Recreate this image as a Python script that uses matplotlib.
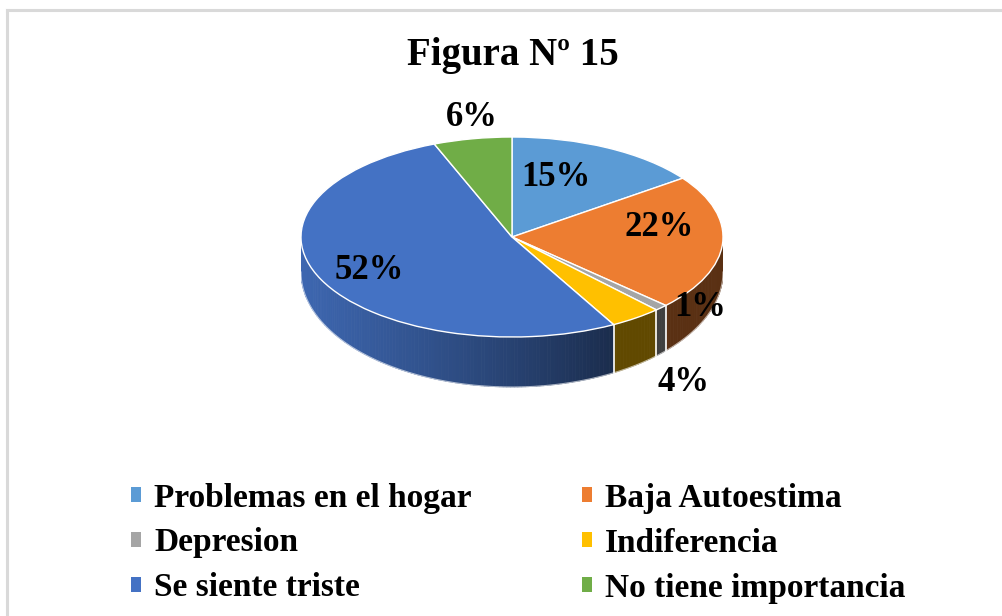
import numpy as np
import matplotlib
matplotlib.use("Agg")
import matplotlib.pyplot as plt
from matplotlib.patches import Polygon
from matplotlib.colors import to_rgb

plt.rcParams['font.family'] = ['Liberation Serif', 'DejaVu Serif']
plt.rcParams['font.weight'] = 'bold'

categorias = ["Problemas en el hogar", "Baja Autoestima", "Depresion",
              "Indiferencia", "Se siente triste", "No tiene importancia"]
porcentajes = [15, 22, 1, 4, 52, 6]
colores = ["#5B9BD5", "#ED7D31", "#A5A5A5", "#FFC000", "#4472C4", "#70AD47"]

# label placement (distance from centre, extra vertical shift)
lab_r = [0.46, 0.70, 1.26, 1.38, 0.75, 1.02]
lab_dy = [0.0, -0.05, 0.0, -0.53, -0.21, 0.0]
# side thickness: thinner at the sides, thicker at the front (perspective)
depth_side, depth_front = 0.35, 0.50

fig = plt.figure(figsize=(10.03, 6.16), dpi=100)
fig.patch.set_facecolor('white')

# chart frame (only top/left visible in the crop)
fig.add_artist(plt.Line2D([7/1003, 7/1003], [0, 1 - 10/616], color='#d9d9d9', lw=2.2))
fig.add_artist(plt.Line2D([7/1003, 1], [1 - 10/616, 1 - 10/616], color='#d9d9d9', lw=2.2))

fig.text(0.511, 1 - 56/616, "Figura Nº 15", ha='center', va='center',
         fontsize=28, fontweight='bold')

ax = fig.add_axes([301/1003, 1 - 392/616, 422/1003, 255/616])

fracs = np.array(porcentajes) / sum(porcentajes)
bounds = 90 - 360 * np.concatenate([[0], np.cumsum(fracs)])


def shade(t):
    t = t % 360
    if t < 180:
        return 0.38
    u = min((t - 180) / 120.0, 1.0)
    return 0.38 + 0.52 * np.cos(u * np.pi / 2)


def low(r):
    s = np.sin(r)
    return s - (depth_side + (depth_front - depth_side) * max(-s, 0))


# side walls of the 3d pie
for i, col in enumerate(colores):
    a1, a0 = bounds[i + 1], bounds[i]
    base = np.array(to_rgb(col))
    angs = np.arange(a1, a0, 1.0)
    angs = np.append(angs, a0)
    for k in range(len(angs) - 1):
        t0, t1 = angs[k], angs[k + 1]
        tm = 0.5 * (t0 + t1)
        if np.sin(np.radians(tm)) >= 0:
            continue
        r0, r1 = np.radians(t0), np.radians(t1)
        pts = [(np.cos(r0), np.sin(r0)), (np.cos(r1), np.sin(r1)),
               (np.cos(r1), low(r1)), (np.cos(r0), low(r0))]
        c = np.clip(base * shade(tm), 0, 1)
        ax.add_patch(Polygon(pts, closed=True, facecolor=c, edgecolor=c, lw=0.6, zorder=1))

# white separators on the side
for b in bounds:
    r = np.radians(b)
    if np.sin(r) < -0.05:
        ax.plot([np.cos(r), np.cos(r)], [np.sin(r), low(r)],
                color='white', lw=1.2, zorder=2)
th = np.radians(np.linspace(180, 360, 200))
ax.plot(np.cos(th), [low(t) for t in th], color='white', lw=0.8, alpha=0.6, zorder=2)

wedges, _ = ax.pie(porcentajes, colors=colores, startangle=90, counterclock=False,
                   wedgeprops=dict(edgecolor='white', linewidth=1.0))
for w in wedges:
    w.set_zorder(3)

ax.set_aspect('auto')
ax.set_xlim(-1, 1)
ax.set_ylim(-1.55, 1.0)
ax.axis('off')

apex_y = 0.19
for i, p in enumerate(porcentajes):
    mid = np.radians(0.5 * (bounds[i] + bounds[i + 1]))
    x = lab_r[i] * np.cos(mid)
    y = apex_y + lab_r[i] * np.sin(mid) + lab_dy[i]
    ax.text(x, y, f"{p}%", ha='center', va='center', fontsize=25,
            fontweight='bold', color='black', zorder=5, clip_on=False)

order = [0, 2, 4, 1, 3, 5]
leg = fig.legend([wedges[i] for i in order], [categorias[i] for i in order],
                 ncol=2, loc='center', bbox_to_anchor=(518/1003, 1 - 543/616),
                 frameon=False, fontsize=24, handlelength=0.3, handleheight=0.3,
                 handletextpad=0.4, columnspacing=3.3, labelspacing=0.42,
                 borderpad=0.2)
for h in leg.legend_handles:
    h.set_edgecolor('none')

fig.savefig("out.png", dpi=100, facecolor='white')
